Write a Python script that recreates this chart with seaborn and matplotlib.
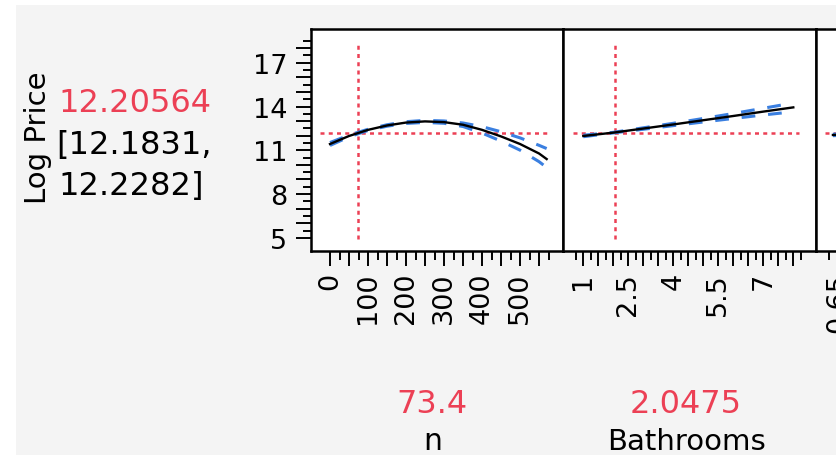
import numpy as np
import matplotlib
matplotlib.use("Agg")
import matplotlib.pyplot as plt
import seaborn as sns
from matplotlib.patches import Rectangle
from matplotlib.ticker import FixedLocator, FuncFormatter

# ---------------- data ----------------
n_vals  = [0, 50, 100, 150, 200, 250, 300, 350, 400, 450, 500, 550, 570]
n_pred  = [11.43, 11.98, 12.40, 12.70, 12.90, 12.98, 12.93, 12.75, 12.40, 11.95, 11.43, 10.78, 10.40]
n_lower = [11.33, 11.92, 12.36, 12.65, 12.84, 12.91, 12.85, 12.63, 12.18, 11.63, 11.01, 10.22, 9.82]
n_upper = [11.53, 12.04, 12.44, 12.75, 12.96, 13.05, 13.01, 12.87, 12.62, 12.27, 11.85, 11.34, 11.12]

bath_vals  = [1, 2, 3, 4, 5, 6, 7, 8]
bath_pred  = [11.98, 12.21, 12.49, 12.77, 13.06, 13.35, 13.65, 13.94]
bath_lower = [11.93, 12.19, 12.44, 12.69, 12.94, 13.18, 13.42, 13.64]
bath_upper = [12.03, 12.23, 12.54, 12.85, 13.18, 13.52, 13.88, 14.24]

third_vals  = [0.642, 0.70, 0.75]
third_pred  = [12.05, 12.15, 12.25]
third_lower = [12.00, 12.10, 12.19]
third_upper = [12.10, 12.20, 12.31]

current_n = 73.4
current_bath = 2.0475
current_pred = 12.20564
ci_text = ["[12.1831,", "12.2282]"]

y_ticklabels = [5, 8, 11, 14, 17]
n_ticklabels = [0, 100, 200, 300, 400, 500]
bath_ticklabels = [1, 2.5, 4, 5.5, 7]
third_ticklabels = [0.65]

response_name = "Log Price"
factor_names = ["n", "Bathrooms"]

# ---------------- style ----------------
plt.rcParams["font.family"] = ["DejaVu Sans"]
RED = "#ec4055"
BLUE = "#3a7fe0"
BG = "#f4f4f4"

W, H = 836, 456
fig = plt.figure(figsize=(W / 100, H / 100), dpi=100, facecolor="white")
fig.patches.append(Rectangle((16 / W, 0), 1, 1 - 6 / H, transform=fig.transFigure,
                             facecolor=BG, edgecolor="none", zorder=-10))

def fx(px):
    return px / W

def fy(py):
    return 1 - py / H

top, bottom = 30, 252
ax_h = (bottom - top) / H
ax1 = fig.add_axes([fx(311), fy(bottom), (563 - 311) / W, ax_h])
ax2 = fig.add_axes([fx(563), fy(bottom), (816 - 563) / W, ax_h])
ax3 = fig.add_axes([fx(816), fy(bottom), 0.3, ax_h])

YLIM = (4.10, 19.31)
dash_blue = (0, (4.5, 4.2))
dot_red = (0, (1.6, 1.7))

def profile(ax, xs, pred, lo, hi, cur_x, hline_span, vline=True):
    if vline:
        ax.plot([cur_x, cur_x], [4.95, 18.4], color=RED, lw=1.8, linestyle=dot_red, zorder=1)
    ax.plot(hline_span, [current_pred, current_pred], color=RED, lw=1.8,
            linestyle=dot_red, zorder=1)
    sns.lineplot(x=xs, y=lo, ax=ax, color=BLUE, linewidth=2.2, linestyle=dash_blue,
                 estimator=None, zorder=2)
    sns.lineplot(x=xs, y=hi, ax=ax, color=BLUE, linewidth=2.2, linestyle=dash_blue,
                 estimator=None, zorder=2)
    sns.lineplot(x=xs, y=pred, ax=ax, color="black", linewidth=1.7,
                 estimator=None, zorder=3)
    ax.set_ylim(*YLIM)
    ax.set_facecolor("white")
    for s in ax.spines.values():
        s.set_linewidth(1.8)
        s.set_color("black")
    ax.set_xlabel("")
    ax.set_ylabel("")

profile(ax1, n_vals, n_pred, n_lower, n_upper, current_n, [-26, 574])
profile(ax2, bath_vals, bath_pred, bath_lower, bath_upper, current_bath, [0.65, 8.2])
profile(ax3, third_vals, third_pred, third_lower, third_upper, None, [0.629, 1.0], vline=False)

ax1.set_xlim(-50, 613)
ax2.set_xlim(0.323, 8.757)
ax3.set_xlim(0.615, 1.015)

def fmt_for(labels):
    return FuncFormatter(lambda v, p: (f"{v:g}" if any(abs(v - l) < 1e-6 for l in labels) else ""))

# x ticks
ax1.xaxis.set_major_locator(FixedLocator(np.arange(0, 551, 50)))
ax1.xaxis.set_minor_locator(FixedLocator(np.arange(25, 576, 50)))
ax1.xaxis.set_major_formatter(fmt_for(n_ticklabels))
ax2.xaxis.set_major_locator(FixedLocator(np.arange(1, 8.01, 0.5)))
ax2.xaxis.set_minor_locator(FixedLocator(np.arange(0.75, 8.26, 0.5)))
ax2.xaxis.set_major_formatter(fmt_for(bath_ticklabels))
ax3.xaxis.set_major_locator(FixedLocator([0.65, 0.7, 0.75, 0.8, 0.85, 0.9, 0.95, 1.0]))
ax3.xaxis.set_minor_locator(FixedLocator([0.635]))
ax3.xaxis.set_major_formatter(fmt_for(third_ticklabels))

# y ticks (only first panel)
ax1.yaxis.set_major_locator(FixedLocator(np.arange(5, 18.01, 1)))
ax1.yaxis.set_minor_locator(FixedLocator(np.arange(5.5, 18.51, 1)))
ax1.yaxis.set_major_formatter(fmt_for(y_ticklabels))
for ax in (ax2, ax3):
    ax.set_yticks([])

for ax in (ax1, ax2, ax3):
    ax.tick_params(axis="x", which="major", direction="out", length=10.5, width=1.4,
                   labelsize=19.5, pad=4.5, labelrotation=90, color="black")
    ax.tick_params(axis="x", which="minor", direction="out", length=6.5, width=1.4, color="black")
ax1.tick_params(axis="y", which="major", direction="out", length=10.5, width=1.4,
                labelsize=19.5, pad=6.5)
ax1.tick_params(axis="y", which="minor", direction="out", length=6, width=1.4)

# ---------------- text ----------------
fig.text(fx(37.5), fy(138), response_name, rotation=90, ha="center", va="center",
         fontsize=21, color="black")
fig.text(fx(58), fy(111.7), f"{current_pred:.5f}", ha="left", va="baseline",
         fontsize=23, color=RED)
fig.text(fx(56), fy(154), ci_text[0], ha="left", va="baseline", fontsize=23, color="black")
fig.text(fx(58), fy(195), ci_text[1], ha="left", va="baseline", fontsize=23, color="black")

fig.text(fx(432), fy(412.7), f"{current_n:g}", ha="center", va="baseline",
         fontsize=23, color=RED)
fig.text(fx(433), fy(450), factor_names[0], ha="center", va="baseline",
         fontsize=21.5, color="black")
fig.text(fx(686), fy(412.7), f"{current_bath:g}", ha="center", va="baseline",
         fontsize=23, color=RED)
fig.text(fx(686), fy(450), factor_names[1], ha="center", va="baseline",
         fontsize=21, color="black")

fig.savefig("out.png", dpi=100, facecolor="white")
